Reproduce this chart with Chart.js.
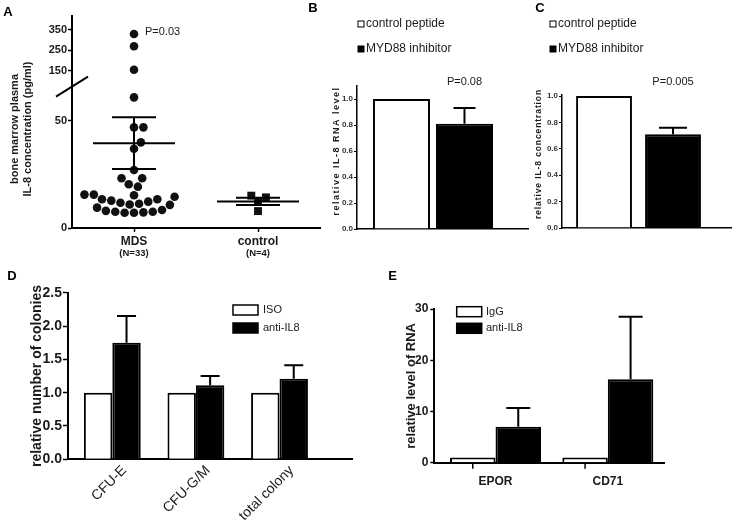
<!DOCTYPE html>
<html>
<head>
<meta charset="utf-8">
<title>IL-8 figure</title>
<script src="https://cdn.jsdelivr.net/npm/chart.js@4.4.1/dist/chart.umd.min.js"></script>
<style>
html,body{margin:0;padding:0;background:#fff;}
body{width:732px;height:525px;position:relative;overflow:hidden;}
canvas{position:absolute;}
</style>
</head>
<body>
<canvas id="panelA" width="330" height="265" style="left:0;top:0"></canvas>
<canvas id="panelB" width="240" height="260" style="left:290px;top:0"></canvas>
<canvas id="panelC" width="217" height="260" style="left:515px;top:0"></canvas>
<canvas id="panelD" width="365" height="255" style="left:0;top:270px"></canvas>
<canvas id="panelE" width="352" height="255" style="left:380px;top:270px"></canvas>
<script>
// ---------------- data ----------------
// Panel A
const groupsA = ['MDS', 'control'];
const groupSizeA = ['(N=33)', '(N=4)'];
const mdsValues = [330, 270, 155, 61, 47, 47, 40, 37, 27.1, 23.2, 23.2, 20.4, 19.3,
  15.6, 15.6, 15.3, 14.6, 13.4, 13.4, 12.8, 12.3, 11.8, 11.3, 11.0, 10.8,
  9.5, 8.4, 8.0, 7.6, 7.6, 7.3, 7.1, 7.1];
const controlValues = [15.1, 14.3, 12.3, 7.9];
const meanA = [39.6, 12.4];
const semA = [12.1, 1.7];
const yTicksA = [0, 50, 150, 250, 350];
const yTitleA = ['bone marrow plasma', 'IL-8 concentration (pg/ml)'];
const pValueA = 'P=0.03';

// Panels B and C
const legendBC = ['control peptide', 'MYD88 inhibitor'];
const yTicksBC = [0, 0.2, 0.4, 0.6, 0.8, 1.0];
const valuesB = [1.0, 0.81];
const errorsB = [0, 0.12];
const pValueB = 'P=0.08';
const yTitleB = 'relative IL-8 RNA level';
const valuesC = [1.0, 0.71];
const errorsC = [0, 0.05];
const pValueC = 'P=0.005';
const yTitleC = 'relative IL-8 concentration';

// Panel D
const categoriesD = ['CFU-E', 'CFU-G/M', 'total colony'];
const legendD = ['ISO', 'anti-IL8'];
const isoD = [1, 1, 1];
const antiIL8D = [1.75, 1.11, 1.21];
const antiIL8ErrD = [0.40, 0.14, 0.20];
const yTicksD = [0, 0.5, 1.0, 1.5, 2.0, 2.5];
const yTitleD = 'relative number of colonies';

// Panel E
const categoriesE = ['EPOR', 'CD71'];
const legendE = ['IgG', 'anti-IL8'];
const iggE = [1, 1];
const antiIL8E = [7.0, 16.3];
const antiIL8ErrE = [3.7, 12.2];
const yTicksE = [0, 10, 20, 30];
const yTitleE = 'relative level of RNA';

// ---------------- setup ----------------
const FONT = "'Liberation Sans', Arial, Helvetica, sans-serif";
const ink = '#000';
const txt = '#1a1a1a';
Chart.defaults.font.family = FONT;
Chart.defaults.color = txt;
Chart.defaults.animation = false;
Chart.defaults.responsive = false;
Chart.defaults.maintainAspectRatio = false;
Chart.defaults.devicePixelRatio = 1;
Chart.defaults.events = [];
Chart.defaults.plugins.legend.display = false;
Chart.defaults.plugins.tooltip.enabled = false;

const setTicks = vals => scale => { scale.ticks = vals.map(v => ({ value: v })); };
const fixWidth = w => scale => { scale.width = w; };
const fixHeight = h => scale => { scale.height = h; };

function yAxis(o) {
  return {
    type: 'linear', min: o.min, max: o.max,
    afterBuildTicks: setTicks(o.ticks),
    afterFit: fixWidth(o.width),
    ticks: { callback: o.label, font: o.font, color: o.color || txt, padding: o.pad },
    grid: { display: true, drawOnChartArea: false, drawTicks: true, tickLength: o.tl, tickWidth: o.tw, tickColor: ink },
    border: { display: true, color: ink, width: o.bw }
  };
}

// ---------------- plugins ----------------
function panelLetter(letter, x, y) {
  return { id: 'panelLetter', afterDraw(chart) {
    const ctx = chart.ctx; ctx.save();
    ctx.font = 'bold 13px ' + FONT; ctx.fillStyle = ink;
    ctx.textAlign = 'center'; ctx.textBaseline = 'middle';
    ctx.fillText(letter, x, y); ctx.restore();
  }};
}
function rotatedTitle(lines, xs, yc, font, spacing) {
  return { id: 'rotTitle', afterDraw(chart) {
    const ctx = chart.ctx; ctx.save();
    ctx.font = font; ctx.fillStyle = txt; ctx.textAlign = 'center'; ctx.textBaseline = 'middle';
    if ('letterSpacing' in ctx) ctx.letterSpacing = spacing;
    lines.forEach((t, i) => {
      ctx.save(); ctx.translate(xs[i], yc); ctx.rotate(-Math.PI / 2); ctx.fillText(t, 0, 0); ctx.restore();
    });
    ctx.restore();
  }};
}
function boxLegend(x, y0, dy, bw, bh, textX, font, lw) {
  return { id: 'boxLegend', afterDraw(chart) {
    const ctx = chart.ctx; ctx.save();
    chart.data.datasets.forEach((ds, i) => {
      const y = y0 + i * dy;
      ctx.fillStyle = ds.backgroundColor; ctx.fillRect(x, y, bw, bh);
      ctx.strokeStyle = ink; ctx.lineWidth = lw; ctx.strokeRect(x, y, bw, bh);
      ctx.fillStyle = txt; ctx.font = font; ctx.textAlign = 'left'; ctx.textBaseline = 'middle';
      ctx.fillText(ds.label, textX, y + bh / 2);
    });
    ctx.restore();
  }};
}
function pLabel(text, dsIndex, idx, dx, yAbs, dy, align) {
  return { id: 'pLabel', afterDraw(chart) {
    const el = chart.getDatasetMeta(dsIndex).data[idx];
    const ctx = chart.ctx; ctx.save();
    ctx.font = '11px ' + FONT; ctx.fillStyle = txt; ctx.textAlign = align; ctx.textBaseline = 'middle';
    ctx.fillText(text, el.x + dx, yAbs != null ? yAbs : el.y + dy);
    ctx.restore();
  }};
}
function errorBars(errSets, capW, lw) {
  return { id: 'errorBars', afterDatasetsDraw(chart) {
    const ctx = chart.ctx; const y = chart.scales.y;
    ctx.save(); ctx.strokeStyle = ink; ctx.lineWidth = lw;
    chart.data.datasets.forEach((ds, di) => {
      const errs = errSets[di]; if (!errs) return;
      chart.getDatasetMeta(di).data.forEach((bar, i) => {
        const e = errs[i]; if (!e) return;
        const top = y.getPixelForValue(ds.data[i].y + e);
        ctx.beginPath();
        ctx.moveTo(bar.x, bar.y); ctx.lineTo(bar.x, top);
        ctx.moveTo(bar.x - capW / 2, top); ctx.lineTo(bar.x + capW / 2, top);
        ctx.stroke();
      });
    });
    ctx.restore();
  }};
}

// ---------------- Panel A ----------------
const plotWA = 248, plotHA = 212, xMaxA = 2, yMaxA = 99;
const pxXA = plotWA / xMaxA, pxYA = plotHA / yMaxA;
const breakLowA = 70, upperBaseA = 150, upperBaseAxisA = 73.4, upperSlopeA = 0.0955, breakAtA = 66;
const toAxisA = v => v <= breakLowA ? v : upperBaseAxisA + (v - upperBaseA) * upperSlopeA;
const xPosA = groupsA.map((_, i) => i + 0.5);

function beeswarm(values, spacing) {
  const ys = values.map(v => toAxisA(v) * pxYA);
  const order = ys.map((_, i) => i).sort((a, b) => ys[a] - ys[b]);
  const placed = []; const off = values.map(() => 0); let side = 1;
  for (const i of order) {
    const y = ys[i];
    const near = placed.filter(p => Math.abs(p.y - y) < spacing);
    const cands = [0];
    near.forEach(p => { const dx = Math.sqrt(spacing * spacing - (p.y - y) ** 2); cands.push(p.x + dx, p.x - dx); });
    const free = cands.filter(c => near.every(p => (p.x - c) ** 2 + (p.y - y) ** 2 >= spacing * spacing - 1e-6));
    free.sort((a, b) => (Math.abs(a) - Math.abs(b)) || side * (b - a));
    off[i] = free[0]; placed.push({ x: free[0], y }); side = -side;
  }
  return off;
}
const offMds = beeswarm(mdsValues, 9.4);
const offCtl = beeswarm(controlValues, 9.0);
const topIdxA = mdsValues.indexOf(Math.max(...mdsValues));

new Chart(document.getElementById('panelA'), {
  type: 'scatter',
  data: { datasets: [
    { label: groupsA[0], data: mdsValues.map((v, i) => ({ x: xPosA[0] + offMds[i] / pxXA, y: toAxisA(v) })),
      pointStyle: 'circle', pointRadius: 4.3, backgroundColor: '#111', borderWidth: 0 },
    { label: groupsA[1], data: controlValues.map((v, i) => ({ x: xPosA[1] + offCtl[i] / pxXA, y: toAxisA(v) })),
      pointStyle: 'rect', pointRadius: 5.6, backgroundColor: '#111', borderWidth: 0 }
  ]},
  options: {
    layout: { padding: { left: 0, top: 16, right: 10, bottom: 0 } },
    scales: {
      x: { type: 'linear', min: 0, max: xMaxA, afterBuildTicks: setTicks(xPosA), afterFit: fixHeight(20),
        ticks: { callback: (v, i) => groupsA[i], font: { size: 12, weight: 'bold' }, padding: 2, autoSkip: false, maxRotation: 0 },
        grid: { display: true, drawOnChartArea: false, drawTicks: true, tickLength: 4, tickWidth: 1.5, tickColor: ink },
        border: { color: ink, width: 2 } },
      x2: { type: 'linear', position: 'bottom', min: 0, max: xMaxA, afterBuildTicks: setTicks(xPosA), afterFit: fixHeight(17),
        ticks: { callback: (v, i) => groupSizeA[i], font: { size: 9.5, weight: 'bold' }, padding: 0, autoSkip: false, maxRotation: 0 },
        grid: { display: false, drawTicks: false }, border: { display: false } },
      y: yAxis({ min: 0, max: yMaxA, ticks: yTicksA.map(toAxisA), width: 72, label: (v, i) => String(yTicksA[i]),
        font: { size: 11, weight: 'bold' }, pad: 1, tl: 4, tw: 1.5, bw: 2 })
    }
  },
  plugins: [
    { id: 'meanSem', afterDatasetsDraw(chart) {
      const { ctx, scales: { x, y } } = chart; ctx.save(); ctx.strokeStyle = ink; ctx.lineWidth = 2;
      meanA.forEach((m, i) => {
        const cx = x.getPixelForValue(xPosA[i]);
        const ym = y.getPixelForValue(toAxisA(m));
        const yh = y.getPixelForValue(toAxisA(m + semA[i]));
        const yl = y.getPixelForValue(toAxisA(m - semA[i]));
        ctx.beginPath();
        ctx.moveTo(cx - 41, ym); ctx.lineTo(cx + 41, ym);
        ctx.moveTo(cx - 22, yh); ctx.lineTo(cx + 22, yh);
        ctx.moveTo(cx - 22, yl); ctx.lineTo(cx + 22, yl);
        ctx.moveTo(cx, yh); ctx.lineTo(cx, yl);
        ctx.stroke();
      });
      ctx.restore();
    }},
    { id: 'breakMark', afterDraw(chart) {
      const ctx = chart.ctx; const y = chart.scales.y.getPixelForValue(breakAtA); const x = chart.chartArea.left;
      ctx.save(); ctx.strokeStyle = ink; ctx.lineWidth = 2;
      ctx.beginPath(); ctx.moveTo(x - 16, y + 10); ctx.lineTo(x + 16, y - 10); ctx.stroke(); ctx.restore();
    }},
    rotatedTitle(yTitleA, [15, 28], 129, 'bold 11px ' + FONT, '0px'),
    pLabel(pValueA, 0, topIdxA, 11, null, -2, 'left'),
    panelLetter('A', 8, 12)
  ]
});

// ---------------- Panels B, C ----------------
function barPanelBC(id, values, errors, pText, title, c) {
  new Chart(document.getElementById(id), {
    type: 'bar',
    data: { datasets: legendBC.map((lab, i) => ({
      label: lab, data: [{ x: i + 1, y: values[i] }],
      backgroundColor: i === 0 ? '#fff' : '#000', borderColor: ink, borderWidth: 2,
      grouped: false, barPercentage: c.barPct, categoryPercentage: 1 })) },
    options: {
      layout: { padding: { left: 0, top: c.top, right: c.right, bottom: 0 } },
      scales: {
        x: { type: 'linear', offset: false, min: c.xmin, max: c.xmax,
          afterBuildTicks: setTicks(legendBC.map((_, i) => i + 1)), afterFit: fixHeight(c.xh),
          ticks: { display: false }, grid: { display: false, drawTicks: false }, border: { color: ink, width: 1.5 } },
        y: yAxis({ min: 0, max: c.ymax, ticks: yTicksBC, width: c.yw, label: v => v.toFixed(1),
          font: { size: 8, weight: 'bold' }, color: '#333', pad: 1, tl: 3, tw: 1, bw: 1.5 })
      }
    },
    plugins: [
      errorBars(errors.map(e => [e]), c.cap, 2),
      boxLegend(c.legX, 21, 25, 6, 6, c.legX + 8, '12px ' + FONT, 1),
      pLabel(pText, 1, 0, 0, 82, 0, 'center'),
      rotatedTitle([title], [c.titleX], c.titleY, c.titleFont, c.spacing),
      panelLetter(c.letter, c.letterX, 8.5)
    ]
  });
}
barPanelBC('panelB', valuesB, errorsB, pValueB, yTitleB,
  { barPct: 0.905, top: 86, right: 2, xmin: 0.294, xmax: 3.008, xh: 31, ymax: 1.1, yw: 67, cap: 22,
    legX: 68, titleX: 47, titleY: 151, titleFont: 'bold 9px ' + FONT, spacing: '1.5px', letter: 'B', letterX: 23 });
barPanelBC('panelC', valuesC, errorsC, pValueC, yTitleC,
  { barPct: 0.81, top: 94.7, right: 0, xmin: 0.391, xmax: 2.855, xh: 32, ymax: 1.01, yw: 47, cap: 28,
    legX: 35, titleX: 24, titleY: 154, titleFont: 'bold 8.5px ' + FONT, spacing: '0.9px', letter: 'C', letterX: 25 });

// ---------------- Panel D ----------------
new Chart(document.getElementById('panelD'), {
  type: 'bar',
  data: { datasets: [
    { label: legendD[0], data: categoriesD.map((_, i) => ({ x: i + 1, y: isoD[i] })),
      backgroundColor: '#fff', borderColor: ink, borderWidth: 2, categoryPercentage: 0.68, barPercentage: 1 },
    { label: legendD[1], data: categoriesD.map((_, i) => ({ x: i + 1, y: antiIL8D[i] })),
      backgroundColor: '#000', borderColor: ink, borderWidth: 2, categoryPercentage: 0.68, barPercentage: 1 }
  ]},
  options: {
    layout: { padding: { left: 0, top: 22.7, right: 13, bottom: 0 } },
    scales: {
      x: { type: 'linear', offset: false, min: 0.47, max: 3.867,
        afterBuildTicks: setTicks(categoriesD.map((_, i) => i + 1)), afterFit: fixHeight(65.7),
        ticks: { callback: (v, i) => categoriesD[i], autoSkip: false, maxRotation: 45, minRotation: 45,
          font: { size: 14 }, padding: 3, labelOffset: 12 },
        grid: { display: false, drawTicks: false }, border: { color: ink, width: 2 } },
      y: Object.assign(yAxis({ min: 0, max: 2.5, ticks: yTicksD, width: 68, label: v => v.toFixed(1),
          font: { size: 14, weight: 'bold' }, pad: 1, tl: 5, tw: 1.5, bw: 2 }),
        { title: { display: true, text: yTitleD, color: txt, font: { size: 14, weight: 'bold' }, padding: { top: 28.6, bottom: 0 } } })
    }
  },
  plugins: [
    errorBars([null, antiIL8ErrD], 19, 2),
    boxLegend(233, 35, 18, 25, 10, 263, '11px ' + FONT, 1.5),
    panelLetter('D', 12, 6.5)
  ]
});

// ---------------- Panel E ----------------
new Chart(document.getElementById('panelE'), {
  type: 'bar',
  data: { datasets: [
    { label: legendE[0], data: categoriesE.map((_, i) => ({ x: i + 1, y: iggE[i] })),
      backgroundColor: '#fff', borderColor: ink, borderWidth: 2, categoryPercentage: 0.81, barPercentage: 1 },
    { label: legendE[1], data: categoriesE.map((_, i) => ({ x: i + 1, y: antiIL8E[i] })),
      backgroundColor: '#000', borderColor: ink, borderWidth: 2, categoryPercentage: 0.81, barPercentage: 1 }
  ]},
  options: {
    layout: { padding: { left: 0, top: 39, right: 68, bottom: 0 } },
    scales: {
      x: { type: 'linear', offset: false, min: 0.455, max: 2.5,
        afterBuildTicks: setTicks(categoriesE.map((_, i) => i + 1)), afterFit: fixHeight(62.3),
        ticks: { callback: (v, i) => categoriesE[i], autoSkip: false, maxRotation: 0, font: { size: 12, weight: 'bold' }, padding: 12 },
        grid: { display: false, drawTicks: false }, border: { color: ink, width: 2 } },
      y: Object.assign(yAxis({ min: 0, max: 30, ticks: yTicksE, width: 54.3, label: v => String(v),
          font: { size: 12, weight: 'bold' }, pad: 2, tl: 4, tw: 1.5, bw: 2 }),
        { title: { display: true, text: yTitleE, color: txt, font: { size: 13, weight: 'bold' }, padding: { top: 23.9, bottom: 0 } } })
    }
  },
  plugins: [
    errorBars([null, antiIL8ErrE], 24, 2),
    { id: 'groupTicks', afterDraw(chart) {
      const ctx = chart.ctx; const yb = chart.chartArea.bottom;
      ctx.save(); ctx.strokeStyle = ink; ctx.lineWidth = 1.5;
      chart.getDatasetMeta(0).data.forEach(b => { ctx.beginPath(); ctx.moveTo(b.x, yb); ctx.lineTo(b.x, yb + 6); ctx.stroke(); });
      ctx.restore();
    }},
    boxLegend(76.7, 36.7, 16.6, 25, 10, 106, '11px ' + FONT, 1.5),
    panelLetter('E', 12.5, 6.5)
  ]
});
</script>
</body>
</html>
